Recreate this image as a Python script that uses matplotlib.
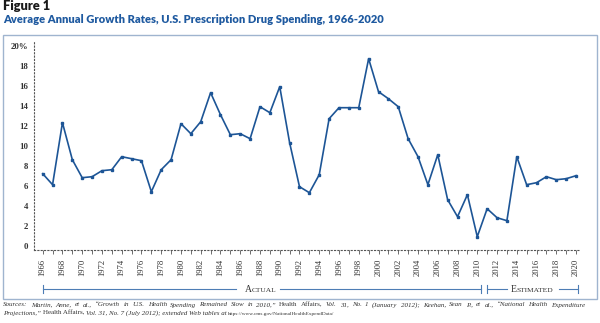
import matplotlib
matplotlib.use("Agg")
import matplotlib.pyplot as plt
from matplotlib.transforms import IdentityTransform, blended_transform_factory
from matplotlib.patches import Rectangle

years = list(range(1966, 2021))
growth = [7.2, 6.1, 12.3, 8.6, 6.8, 6.9, 7.5, 7.6, 8.9, 8.7,
          8.5, 5.4, 7.6, 8.6, 12.2, 11.2, 12.4, 15.3, 13.1, 11.1,
          11.2, 10.7, 13.9, 13.3, 15.9, 10.3, 5.9, 5.3, 7.1, 12.7,
          13.8, 13.8, 13.8, 18.7, 15.4, 14.7, 13.9, 10.7, 8.9, 6.1,
          9.1, 4.6, 2.9, 5.1, 0.9, 3.7, 2.8, 2.5, 8.9, 6.1,
          6.3, 6.9, 6.6, 6.7, 7.0]
ytick_vals = [0, 2, 4, 6, 8, 10, 12, 14, 16, 18, 20]
ytick_labels = ["0", "2", "4", "6", "8", "10", "12", "14", "16", "18", "20%"]
year_labels = list(range(1966, 2021, 2))

title = "Average Annual Growth Rates, U.S. Prescription Drug Spending, 1966-2020"
fig_label = "Figure 1"
foot1 = [("Sources: Martin, Anne, et al., \u201cGrowth in U.S. Health Spending Remained Slow in 2010,\u201d", "italic"),
         ("Health Affairs,", "normal"),
         ("Vol. 31, No. 1 (January 2012); Keehan, Sean P., et al., \u201cNational Health Expenditure", "italic")]
foot2 = [("Projections,\u201d ", "italic"),
         ("Health Affairs, ", "normal"),
         ("Vol. 31, No. 7 (July 2012); extended Web tables at ", "italic"),
         ("https://www.cms.gov/NationalHealthExpendData/", "url")]

W, H = 600, 323
fig = plt.figure(figsize=(W / 100, H / 100), dpi=100)
fig.patch.set_facecolor("white")

x_left, x_right = 34.3, 579.0
y_top, y_bot = 41.7, 249.5
ax = fig.add_axes([x_left / W, 1 - y_bot / H, (x_right - x_left) / W, (y_bot - y_top) / H])
ax.set_xlim(1965.15, 2020.3)
ax.set_ylim(-0.38, 20.4)

line_color = "#1d5596"
ax.plot(years, growth, color=line_color, lw=1.2, marker="s", markersize=1.9,
        markerfacecolor=line_color, markeredgecolor=line_color, clip_on=False, zorder=3)

for s in ["top", "right"]:
    ax.spines[s].set_visible(False)
for s in ["left", "bottom"]:
    ax.spines[s].set_linestyle((0, (1, 2)))
    ax.spines[s].set_color("#555555")
    ax.spines[s].set_linewidth(0.8)

ax.set_yticks(ytick_vals)
ax.set_yticklabels(ytick_labels, fontsize=6.3, family="Liberation Serif",
                   fontweight="bold", color="#333333")
ax.tick_params(axis="y", length=0, pad=4.5)

ax.set_xticks(year_labels)
ax.set_xticklabels([str(y) for y in year_labels], rotation=90, fontsize=6.2,
                   family="Liberation Serif", color="#333333")
ax.set_xticks(years, minor=True)
ax.tick_params(axis="x", which="both", length=3, width=0.6, color="#555555", direction="out")
ax.tick_params(axis="x", which="major", pad=3.5)

renderer = fig.canvas.get_renderer()
ident = IdentityTransform()
SERIF = "Liberation Serif"
FOOT_SIZE = 5.0
URL_SIZE = 3.8


def fit_text(x, yft, txt, target_w, base_size, **kw):
    t = fig.text(x, H - yft, txt, fontsize=base_size, transform=ident,
                 va="baseline", ha="left", **kw)
    w = t.get_window_extent(renderer).width
    t.set_fontsize(base_size * target_w / w)
    return t


def make_text(x, yft, txt, size, style):
    if style == "url":
        size, style = URL_SIZE, "normal"
    return fig.text(x, H - yft, txt, fontsize=size, fontstyle=style, family=SERIF,
                    color="#333333", transform=ident, va="baseline", ha="left")


def seg_text(x, yft, segs, size):
    xx = x
    for txt, style in segs:
        t = make_text(xx, yft, txt, size, style)
        xx = t.get_window_extent(renderer).x1
    return xx


def justified(x0, x1, yft, segs, size):
    words = []
    for txt, style in segs:
        for w in txt.split():
            words.append((w, style))
    widths = []
    for w, style in words:
        t = make_text(0, 0, w, size, style)
        widths.append(t.get_window_extent(renderer).width)
        t.remove()
    gap = (x1 - x0 - sum(widths)) / (len(words) - 1)
    x = x0
    for (w, style), wd in zip(words, widths):
        make_text(x, yft, w, size, style)
        x += wd + gap


def small_caps(center_x, yft, word, big, small, color="#333333"):
    segs = [(word[0], big), (word[1:], small)]
    total = 0
    for txt, sz in segs:
        t = fig.text(0, 0, txt, fontsize=sz, family=SERIF, transform=ident)
        total += t.get_window_extent(renderer).width
        t.remove()
    x = center_x - total / 2
    for txt, sz in segs:
        t = fig.text(x, H - yft, txt, fontsize=sz, family=SERIF,
                     color=color, transform=ident, va="baseline", ha="left")
        x = t.get_window_extent(renderer).x1


fit_text(3, 9.5, fig_label, 47, 7.0, fontweight="heavy", color="#1a1a1a", family="Lato")
fit_text(3, 23, title, 377, 7.5, fontweight="heavy", color="#1f5aa0", family="Lato")

fig.add_artist(Rectangle((3 / W, 1 - 299 / H), 594 / W, 264 / H, transform=fig.transFigure,
                         fill=False, edgecolor="#9fb4cf", lw=1.0))

bt = blended_transform_factory(ax.transData, fig.transFigure)
br_col = "#4d7db5"
yb = 1 - 289 / H
yb1, yb2 = 1 - 285 / H, 1 - 293 / H
px = lambda p: 1966 + (p - 42.7) / 9.877
segs_lines = [(px(42.7), px(236)), (px(280), px(480.7)), (px(486.7), px(506.7)), (px(559), px(578))]
for a, b in segs_lines:
    ax.plot([a, b], [yb, yb], color=br_col, lw=0.8, transform=bt, clip_on=False)
for p in [42.7, 480.7, 486.7, 578]:
    ax.plot([px(p), px(p)], [yb1, yb2], color=br_col, lw=0.8, transform=bt, clip_on=False)

small_caps(260.5, 291.5, "ACTUAL", 7.0, 5.4)
small_caps(532, 291.5, "ESTIMATED", 7.0, 5.4)

justified(3, 585, 306.5, foot1, FOOT_SIZE)
seg_text(3, 314.5, foot2, FOOT_SIZE)

fig.savefig("out.png", dpi=100, facecolor="white")
